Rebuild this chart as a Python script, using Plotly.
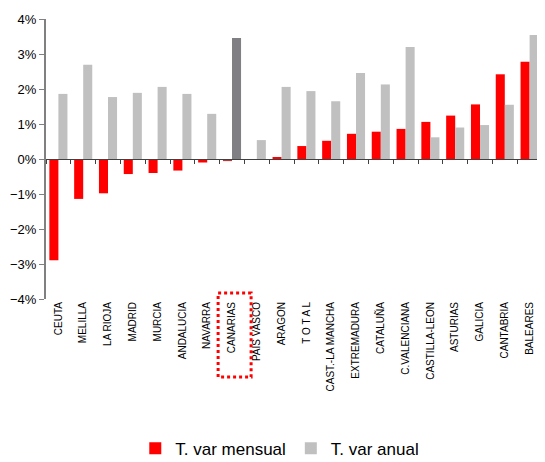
import plotly.graph_objects as go

categories = ["CEUTA", "MELILLA", "LA RIOJA", "MADRID", "MURCIA", "ANDALUCIA", "NAVARRA",
              "CANARIAS", "PAIS VASCO", "ARAGON", "T O T A L", "CAST.-LA MANCHA", "EXTREMADURA",
              "CATALUÑA", "C.VALENCIANA", "CASTILLA-LEON", "ASTURIAS", "GALICIA", "CANTABRIA", "BALEARES"]
mensual = [-2.89, -1.14, -0.98, -0.43, -0.40, -0.33, -0.10, -0.06, -0.01, 0.04, 0.37, 0.52,
           0.72, 0.78, 0.86, 1.06, 1.24, 1.56, 2.42, 2.78]
anual = [1.86, 2.69, 1.77, 1.89, 2.06, 1.86, 1.29, 3.46, 0.54, 2.06, 1.94, 1.65, 2.46, 2.13,
         3.20, 0.62, 0.90, 0.97, 1.55, 3.54]
highlight = "CANARIAS"

red_colors = ["#C03434" if c == highlight else "#FF0000" for c in categories]
gray_colors = ["#7F7F84" if c == highlight else "#C0C0C0" for c in categories]

fig = go.Figure()
fig.add_trace(go.Bar(x=categories, y=mensual, name="T. var mensual",
                     marker=dict(color=red_colors, line=dict(width=0))))
fig.add_trace(go.Bar(x=categories, y=anual, name="T. var anual",
                     marker=dict(color=gray_colors, line=dict(width=0))))
# helper trace for the zero-line axis with ticks
fig.add_trace(go.Bar(x=categories, y=[0] * len(categories), xaxis="x2",
                     showlegend=False, hoverinfo="skip", marker=dict(opacity=0)))

hi = categories.index(highlight)
fig.add_shape(type="rect", xref="x", yref="paper", x0=hi - 0.56, x1=hi + 0.77,
              y0=0.021, y1=-0.279, line=dict(color="#FF0000", width=3, dash="dot"))

n = len(categories)
fig.update_layout(
    width=537, height=452,
    margin=dict(l=38, r=3, t=11, b=161, autoexpand=False),
    paper_bgcolor="white", plot_bgcolor="white",
    font=dict(family="Liberation Sans, Arial, sans-serif", color="black"),
    barmode="group", bargap=0.27, bargroupgap=0,
    showlegend=True,
    legend=dict(orientation="h", x=0.18, xanchor="left", y=-0.535, yanchor="middle",
                font=dict(size=17), itemwidth=30, traceorder="normal"),
    xaxis=dict(type="category", range=[-0.5, n - 0.5], tickangle=-90, tickfont=dict(size=10),
               automargin=False, showline=False, ticks="", showgrid=False, zeroline=False),
    xaxis2=dict(type="category", range=[-0.5, n - 0.5], overlaying="x", anchor="free",
                position=0.5, showticklabels=False, ticks="outside", tickson="boundaries",
                ticklen=4, tickcolor="#404040", showline=True, linecolor="#404040",
                linewidth=1, showgrid=False, zeroline=False, automargin=False),
    yaxis=dict(range=[-4, 4], dtick=1, ticksuffix="%", tickfont=dict(size=13), automargin=False,
               showline=True, linecolor="#808080", linewidth=2, ticks="outside",
               ticklen=5, tickcolor="#808080", showgrid=False, zeroline=False),
)

fig.write_html("out.html")
